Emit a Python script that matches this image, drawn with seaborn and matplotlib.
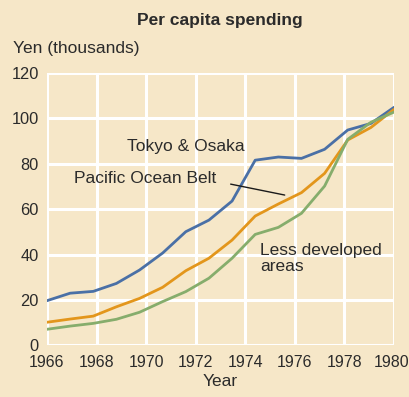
import numpy as np
import pandas as pd
import matplotlib
matplotlib.use("Agg")
import matplotlib.pyplot as plt
import matplotlib.transforms as mtransforms
import seaborn as sns

# Survey points, evenly spaced from 1966 to 1980
years = np.linspace(1966, 1980, 16)
tokyo_osaka = [19.7, 23.0, 23.8, 27.3, 33.2, 40.7, 50.1, 55.2, 63.6, 81.6,
               83.0, 82.4, 86.4, 94.9, 97.8, 104.9]
pacific_belt = [10.2, 11.6, 12.9, 17.0, 20.7, 25.6, 32.9, 38.4, 46.4, 57.0,
                62.3, 67.3, 75.8, 90.5, 96.0, 104.0]
less_developed = [7.1, 8.5, 9.7, 11.5, 14.6, 19.3, 23.7, 29.6, 38.4, 48.9,
                  52.0, 58.2, 70.2, 90.8, 98.3, 102.8]
x_ticks = list(range(1966, 1981, 2))
y_ticks = list(range(0, 121, 20))

region_names = ["Tokyo & Osaka", "Pacific Ocean Belt", "Less developed areas"]
palette = {"Tokyo & Osaka": "#4a70a6",
           "Pacific Ocean Belt": "#e3961c",
           "Less developed areas": "#86ad6c"}

df = pd.DataFrame({
    "Year": np.tile(years, 3),
    "Spending": tokyo_osaka + pacific_belt + less_developed,
    "Region": np.repeat(region_names, len(years)),
})

bg = "#f6e7c8"
ink = "#2b2b2b"
sns.set_theme(style="white")
plt.rcParams["font.family"] = ["Liberation Sans", "DejaVu Sans"]

fig = plt.figure(figsize=(4.10, 3.97), dpi=100, facecolor=bg)
ax = fig.add_axes([0.1146, 0.130, 0.8464, 0.686], facecolor=bg)

sns.lineplot(data=df, x="Year", y="Spending", hue="Region", palette=palette,
             linewidth=2.0, legend=False, ax=ax, zorder=3)

ax.set_xlim(1966, 1980)
ax.set_ylim(0, 120)
ax.set_xticks(x_ticks)
ax.set_yticks(y_ticks)
ax.grid(True, color="white", linewidth=2.2, zorder=0)
ax.set_axisbelow(True)
for s in ax.spines.values():
    s.set_visible(False)
ax.tick_params(axis="y", length=0, labelsize=11.8, colors=ink, pad=6)
ax.tick_params(axis="x", length=0, labelsize=11.5, colors=ink, pad=7)
ax.set_xlabel("Year", fontsize=12.5, color=ink, labelpad=3)
ax.set_ylabel("")

# keep the last year label inside the figure edge
last = ax.get_xticklabels()[-1]
last.set_transform(last.get_transform() +
                   mtransforms.ScaledTranslation(-2 / 100, 0, fig.dpi_scale_trans))

fig.text(0.5366, 0.948, "Per capita spending", ha="center", va="center",
         fontsize=12.5, fontweight="bold", color=ink)
fig.text(0.031, 0.879, "Yen (thousands)", ha="left", va="center",
         fontsize=12.5, color=ink)

label_kw = dict(fontsize=12.5, color=ink, zorder=4)
ax.text(1971.6, 87.5, "Tokyo & Osaka", ha="center", va="center", **label_kw)
ax.text(1967.1, 73.6, "Pacific Ocean Belt", ha="left", va="center", **label_kw)
ax.text(1974.6, 38.3, "Less developed\nareas", ha="left", va="center",
        linespacing=1.05, **label_kw)
ax.annotate("", xy=(1975.7, 66.0), xytext=(1973.3, 71.3),
            arrowprops=dict(arrowstyle="-", color="#1a1a1a", lw=1.0), zorder=4)

fig.savefig("out.png", dpi=100, facecolor=bg)
